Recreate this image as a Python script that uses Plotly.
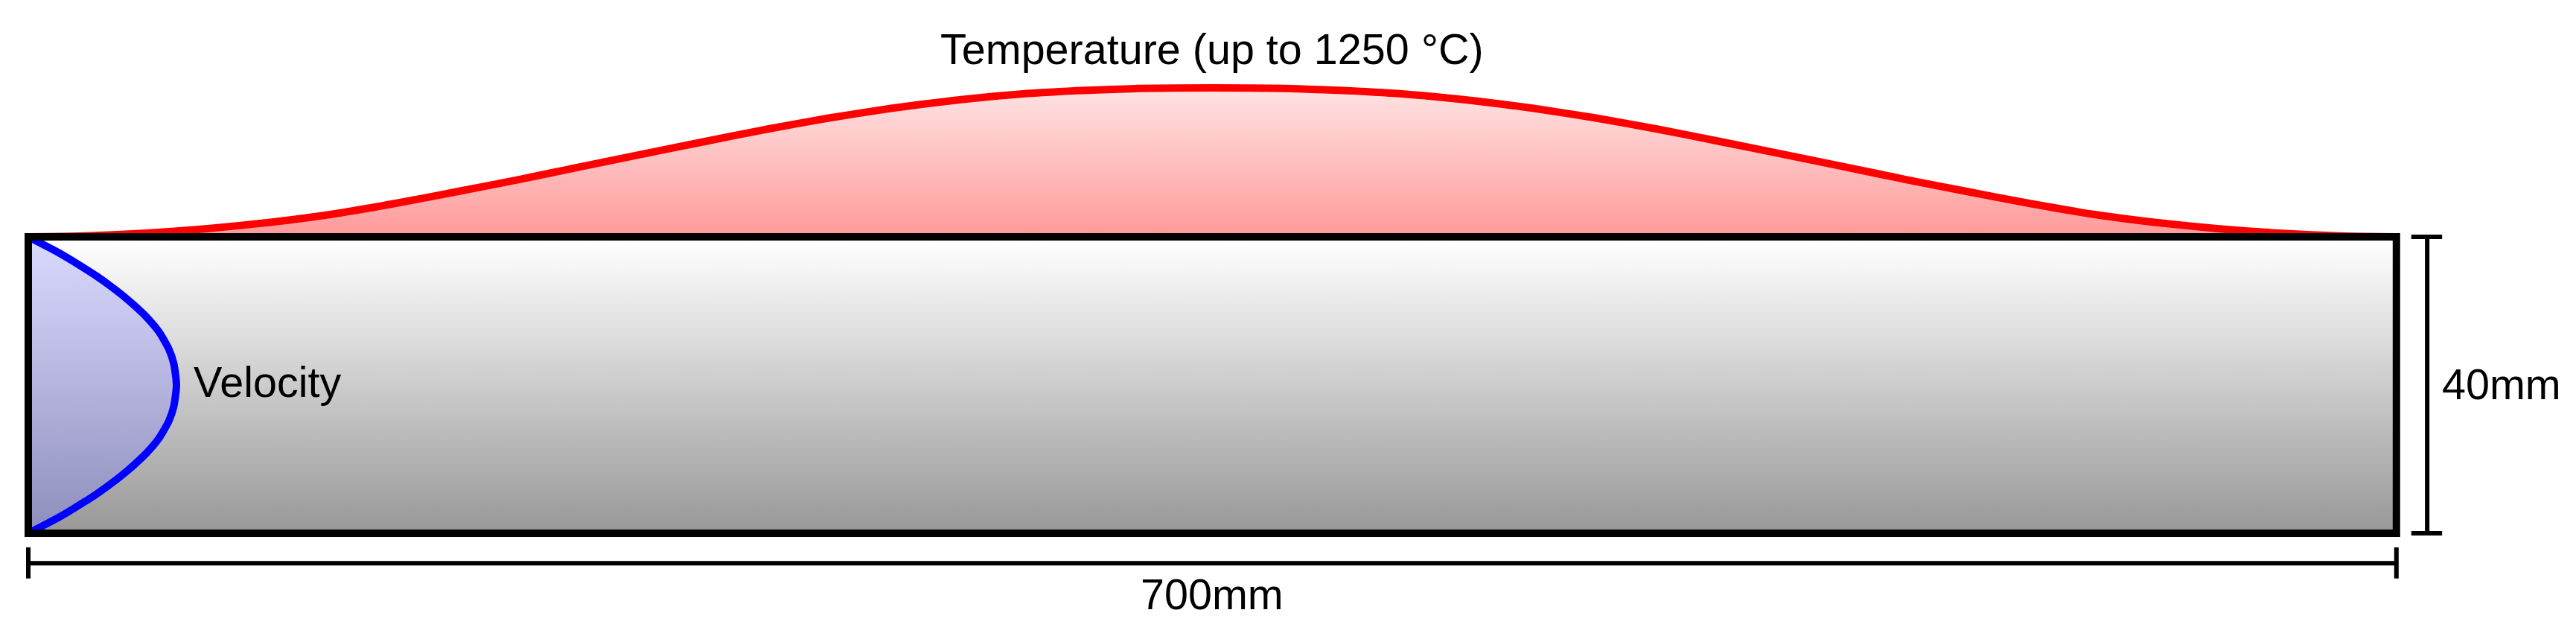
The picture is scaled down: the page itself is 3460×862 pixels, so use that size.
import plotly.graph_objects as go

# channel size in mm
channel_length = 700
channel_height = 40

# temperature along the wall
temp_x = [0, 15.2, 35, 53, 71.5, 90, 108, 126.5, 145, 163.3, 181.6, 200, 218.3, 236.6, 255, 273.3,
          291.5, 310, 328, 350, 372, 390, 408.5, 426.7, 445, 463.4, 481.7, 500, 518.4, 536.7, 555,
          573.5, 592, 610, 628.5, 647, 665, 684.8, 700]
temp_c = [0, 6, 31, 69, 122, 191, 278, 378, 481, 588, 694, 800, 903, 997, 1078, 1144,
          1194, 1226, 1245, 1250, 1245, 1226, 1194, 1144, 1078, 997, 903, 800, 694, 588, 481,
          378, 278, 191, 122, 69, 31, 6, 0]

# inlet velocity profile, drawn as a length in mm across the channel
vel_y = [0, 1.32, 2.2, 3.2, 4.24, 5.3, 6.5, 7.8, 9.2, 10.8, 12.8, 15.1, 17.1, 20,
         22.9, 24.9, 27.2, 29.2, 30.8, 32.2, 33.5, 34.7, 35.76, 36.8, 37.8, 38.68, 40]
vel_x = [0, 5.6, 9.2, 12.9, 16.6, 20.2, 23.9, 27.6, 31.2, 34.9, 38.6, 41.5, 43.0, 43.8,
         43.0, 41.5, 38.6, 34.9, 31.2, 27.6, 23.9, 20.2, 16.6, 12.9, 9.2, 5.6, 0]

WIDTH = 3460
HEIGHT = 862
FONT = "Liberation Sans"
FONT_SIZE = 57.5

fig = go.Figure()

# channel body
fig.add_trace(go.Scatter(
    x=[0, channel_length, channel_length, 0, 0],
    y=[0, 0, channel_height, channel_height, 0],
    mode="lines", line=dict(width=0), fill="toself",
    fillgradient=dict(type="vertical", start=0.5, stop=39.5,
                      colorscale=[[0, "#999999"], [1, "#ffffff"]]),
    hoverinfo="skip",
))

# velocity
fig.add_trace(go.Scatter(
    x=vel_x, y=vel_y, mode="lines",
    line=dict(color="#0000ff", width=10, shape="spline", smoothing=0.6, simplify=False),
    fill="tozerox",
    fillgradient=dict(type="vertical", start=0.5, stop=39.5,
                      colorscale=[[0, "#8f8fbd"], [1, "#d9d9ff"]]),
    hoverinfo="skip",
))

# temperature on its own axis
fig.add_trace(go.Scatter(
    x=temp_x, y=temp_c, yaxis="y2", mode="lines",
    line=dict(color="#ff0000", width=10, shape="spline", smoothing=0.6, simplify=False),
    fill="tozeroy",
    fillgradient=dict(type="vertical", start=0, stop=1250,
                      colorscale=[[0, "#ff9999"], [1, "#ffe3e3"]]),
    hoverinfo="skip",
))

# border goes over both curves
shapes = [dict(type="rect", xref="x", yref="y", x0=0, x1=channel_length, y0=0, y1=channel_height,
               line=dict(color="black", width=10), layer="above")]

# dimension brackets
dim_y = -4.05
dim_x = 709.1
bar = dict(color="black", width=6)
for x0, y0, x1, y1 in [
    (0, dim_y, channel_length, dim_y),
    (0, -1.9, 0, -6.1),
    (channel_length, -1.9, channel_length, -6.1),
    (dim_x, 0, dim_x, channel_height),
    (704.4, 0, 713.5, 0),
    (704.4, channel_height, 713.5, channel_height),
]:
    shapes.append(dict(type="line", xref="x", yref="y", x0=x0, y0=y0, x1=x1, y1=y1, line=bar))


def label(text, px, py):
    return dict(text=text, xref="paper", yref="paper", x=px / WIDTH, y=1 - py / HEIGHT,
                xanchor="center", yanchor="middle", showarrow=False,
                font=dict(family=FONT, size=FONT_SIZE, color="black"))


annotations = [
    label("Temperature (up to 1250\u2009\u200a°C)", 1628, 66),
    label("Velocity", 359, 513),
    label("40mm", 3360, 516),
    label("700mm", 1628, 798),
]

fig.update_layout(
    width=WIDTH, height=HEIGHT,
    margin=dict(l=0, r=0, t=0, b=0),
    paper_bgcolor="white", plot_bgcolor="white",
    showlegend=False,
    xaxis=dict(visible=False, range=[-8.363, 753.08]),
    yaxis=dict(visible=False, range=[-14.673, 71.96]),
    yaxis2=dict(visible=False, range=[-3400, 1987.5], overlaying="y"),
    shapes=shapes,
    annotations=annotations,
)

fig.write_html("out.html", config=dict(displayModeBar=False),
               post_script="document.body.style.margin='0';document.body.style.overflow='hidden';")
